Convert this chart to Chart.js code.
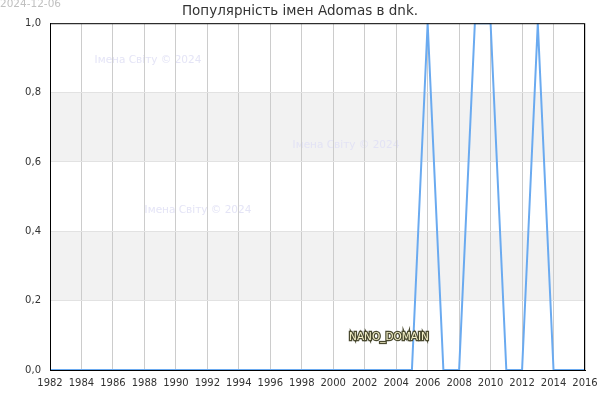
<!DOCTYPE html>
<html>
<head>
<meta charset="utf-8">
<script src="https://cdn.jsdelivr.net/npm/chart.js@4"></script>
<style>
  body { margin: 0; background: #fff; }
  #wrap { width: 600px; height: 400px; }
</style>
</head>
<body>
<div id="wrap"><canvas id="NameChart" width="600" height="400"></canvas></div>
<script>
// years and popularity values
const years = [1982, 1983, 1984, 1985, 1986, 1987, 1988, 1989, 1990, 1991, 1992, 1993,
  1994, 1995, 1996, 1997, 1998, 1999, 2000, 2001, 2002, 2003, 2004, 2005,
  2006, 2007, 2008, 2009, 2010, 2011, 2012, 2013, 2014, 2015, 2016];
const popularity = [0, 0, 0, 0, 0, 0, 0, 0, 0, 0, 0, 0,
  0, 0, 0, 0, 0, 0, 0, 0, 0, 0, 0, 0,
  1, 0, 0, 1, 1, 0, 0, 1, 0, 0, 0];
const bandRanges = [[0.2, 0.4], [0.6, 0.8]];
const watermarkText = 'Імена Світу © 2024';
const stampText = '2024-12-06';
const domainText = 'NANO_DOMAIN';

const FONT = '"DejaVu Sans", sans-serif';

// grey stripes + faint watermarks, under the grid
const backdrop = {
  id: 'backdrop',
  beforeDraw(chart) {
    const { ctx, chartArea: a, scales: { x, y } } = chart;
    ctx.save();
    ctx.fillStyle = '#f2f2f2';
    bandRanges.forEach(([lo, hi]) => {
      const top = y.getPixelForValue(hi);
      const bot = y.getPixelForValue(lo);
      ctx.fillRect(a.left, top, a.right - a.left, bot - top);
    });
    ctx.font = '10.5px ' + FONT;
    ctx.fillStyle = 'rgba(225, 225, 245, 0.9)';
    ctx.textAlign = 'center';
    ctx.textBaseline = 'middle';
    ctx.fillText(watermarkText, 148, 60);
    ctx.fillText(watermarkText, 346, 145);
    ctx.fillText(watermarkText, 198, 210);
    ctx.fillStyle = '#c0c0c0';
    ctx.textAlign = 'left';
    ctx.fillText(stampText, 0, 4);
    ctx.restore();
  },
  afterDraw(chart) {
    const { ctx, chartArea: a } = chart;
    ctx.save();
    ctx.strokeStyle = '#000';
    ctx.lineWidth = 1;
    ctx.strokeRect(a.left + 0.5, a.top + 0.5, a.right - a.left - 1, a.bottom - a.top);
    ctx.font = '10.5px ' + FONT;
    ctx.textAlign = 'center';
    ctx.textBaseline = 'middle';
    ctx.lineWidth = 2.5;
    ctx.strokeStyle = '#4a4a30';
    ctx.strokeText(domainText, 389, 337);
    ctx.fillStyle = '#f4f0c8';
    ctx.fillText(domainText, 389, 337);
    ctx.restore();
  }
};

const ctx = document.getElementById('NameChart').getContext('2d');
new Chart(ctx, {
  type: 'line',
  data: {
    labels: years,
    datasets: [{
      data: years.map((yr, i) => ({ x: yr, y: popularity[i] })),
      borderColor: 'rgb(106, 170, 240)',
      borderWidth: 2,
      pointRadius: 0,
      tension: 0,
      fill: false
    }]
  },
  options: {
    responsive: false,
    animation: false,
    layout: { padding: 0 },
    plugins: {
      legend: { display: false },
      tooltip: { enabled: false },
      title: {
        display: true,
        text: 'Популярність імен Adomas в dnk.',
        color: '#333',
        font: { family: FONT, size: 13.5, weight: 'normal' },
        padding: { top: 3, bottom: 4 }
      }
    },
    scales: {
      x: {
        type: 'linear',
        min: 1982,
        max: 2016,
        afterFit(s) { s.height = 30; s.paddingRight = 15; },
        ticks: {
          stepSize: 2,
          color: '#333',
          font: { family: FONT, size: 10 },
          maxRotation: 0,
          padding: 7,
          callback: v => String(v)
        },
        grid: { color: '#cccccc', drawTicks: false },
        border: { color: '#000' }
      },
      y: {
        min: 0,
        max: 1,
        afterFit(s) { s.width = 50; },
        ticks: {
          stepSize: 0.2,
          color: '#333',
          font: { family: FONT, size: 10 },
          padding: 9,
          callback: v => v.toFixed(1).replace('.', ',')
        },
        grid: { color: '#e2e2e2', drawTicks: false },
        border: { color: '#000' }
      }
    }
  },
  plugins: [backdrop]
});
</script>
</body>
</html>
